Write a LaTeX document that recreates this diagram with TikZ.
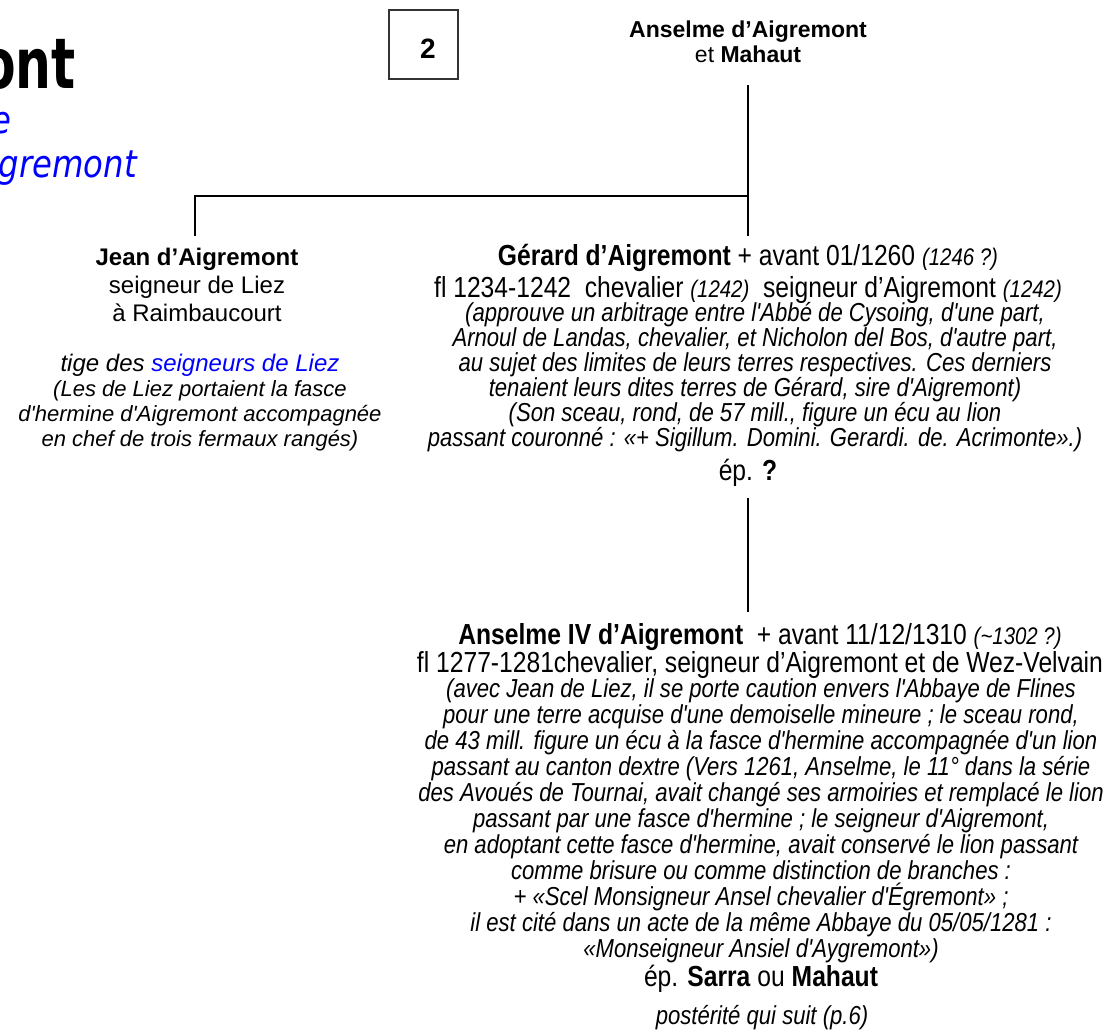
\documentclass[tikz,border=0pt]{standalone}
\usepackage{fontspec}
\setmainfont{Liberation Sans}[FakeStretch=0.85,Ligatures=TeXOff]
\newfontfamily\arial[Ligatures=TeXOff]{Liberation Sans}
\newfontfamily\titre[FakeStretch=0.72]{DejaVu Sans}
\newfontfamily\soustitre[FakeStretch=0.85]{DejaVu Sans}
\definecolor{bleulien}{RGB}{0,0,255}
\newcommand\petitit[1]{{\fontsize{24}{24}\selectfont\itshape #1}}
\tikzset{
  lien/.style={line width=2.4pt, line join=miter},
  bloc/.style={anchor=north, inner sep=0pt, align=center},
  nom/.style={bloc, font=\fontsize{29}{32}\selectfont},
  note/.style={bloc, font=\itshape\fontsize{26}{25}\selectfont},
}
\begin{document}
\begin{tikzpicture}[x=1pt,y=-1pt]
  \useasboundingbox (0,0) rectangle (1106,1034);
  \clip (0,0) rectangle (1106,1034);
  % en-tete
  \node[anchor=base east, inner sep=0pt, font=\titre\bfseries\fontsize{70}{70}\selectfont] (titre) at (76,88) {Aigremont};
  \node[anchor=base east, inner sep=0pt, text=bleulien, font=\soustitre\itshape\fontsize{38}{38}\selectfont] (soustitre) at (12,133) {Famille};
  \node[anchor=base east, inner sep=0pt, text=bleulien, font=\soustitre\itshape\fontsize{38}{38}\selectfont] (soustitrebis) at (137,177) {d’Aigremont};
  \node[draw=black!80, line width=1.3pt, minimum size=69pt, inner sep=0pt] (numero) at (423.5,44.5) {};
  \node[font=\arial\bfseries\fontsize{28}{28}\selectfont, inner sep=0pt] (numerotexte) at (428,49) {2};
  % parents
  \node[bloc, font=\arial\fontsize{23}{25}\selectfont] (couple) at (748,21) {\textbf{Anselme d’Aigremont}\\et \textbf{Mahaut}};
  % Jean
  \node[bloc, font=\arial\fontsize{24}{28}\selectfont] (jean) at (197,248) {\textbf{Jean d’Aigremont}\\seigneur de Liez\\à Raimbaucourt};
  \node[bloc, font=\arial\itshape\fontsize{24}{25}\selectfont] (jeantige) at (200,354) {tige des \textcolor{bleulien}{seigneurs de Liez}};
  \node[bloc, font=\arial\itshape\fontsize{22}{25}\selectfont] (jeannote) at (200,380) {(Les de Liez portaient la fasce\\d'hermine d'Aigremont accompagnée\\en chef de trois fermaux rangés)};
  % Gerard
  \node[nom] (gerard) at (748,244) {\textbf{Gérard d’Aigremont} + avant 01/1260 \petitit{(1246 ?)}\\fl 1234-1242\ \ chevalier \petitit{(1242)}\ \ seigneur d’Aigremont \petitit{(1242)}};
  \node[note] (gerardnote) at (755,302) {(approuve un arbitrage entre l'Abbé de Cysoing, d'une part,\\
    Arnoul de Landas, chevalier, et Nicholon del Bos, d'autre part,\\
    au sujet des limites de leurs terres respectives. Ces derniers\\
    tenaient leurs dites terres de Gérard, sire d'Aigremont)\\
    (Son sceau, rond, de 57 mill., figure un écu au lion\\
    passant couronné : «+ Sigillum. Domini. Gerardi. de. Acrimonte».)};
  \node[nom] (gerardep) at (748,459) {ép. \textbf{?}};
  % Anselme IV
  \node[nom, font=\fontsize{29}{25}\selectfont] (anselme) at (760,623) {\textbf{Anselme IV d’Aigremont}\ \ + avant 11/12/1310 \petitit{(\textasciitilde1302 ?)}\\fl 1277-1281chevalier, seigneur d’Aigremont et de Wez-Velvain};
  \node[note, font=\itshape\fontsize{26}{26}\selectfont] (anselmenote) at (761,678) {(avec Jean de Liez, il se porte caution envers l'Abbaye de Flines\\
    pour une terre acquise d'une demoiselle mineure ; le sceau rond,\\
    de 43 mill. figure un écu à la fasce d'hermine accompagnée d'un lion\\
    passant au canton dextre (Vers 1261, Anselme, le 11° dans la série\\
    des Avoués de Tournai, avait changé ses armoiries et remplacé le lion\\
    passant par une fasce d'hermine ; le seigneur d'Aigremont,\\
    en adoptant cette fasce d'hermine, avait conservé le lion passant\\
    comme brisure ou comme distinction de branches :\\
    + «Scel Monsigneur Ansel chevalier d'Égremont» ;\\
    il est cité dans un acte de la même Abbaye du 05/05/1281 :\\
    «Monseigneur Ansiel d'Aygremont»)};
  \node[nom] (anselmeep) at (761,965) {ép. \textbf{Sarra} ou \textbf{Mahaut}};
  \node[note] (posterite) at (762,1005) {postérité qui suit (p.6)};
  % liens
  \coordinate (fourche) at (748,196);
  \coordinate (coinjean) at (195,196);
  \draw[lien, shorten <=22pt, shorten >=8pt] (couple.south) -- (couple.south |- gerard.north);
  \draw[lien, shorten >=12pt] (fourche) -- (coinjean) -- (coinjean |- jean.north);
  \draw[lien, shorten <=11pt, shorten >=11pt] (gerardep.south) -- (gerardep.south |- anselme.north);
\end{tikzpicture}
\end{document}
